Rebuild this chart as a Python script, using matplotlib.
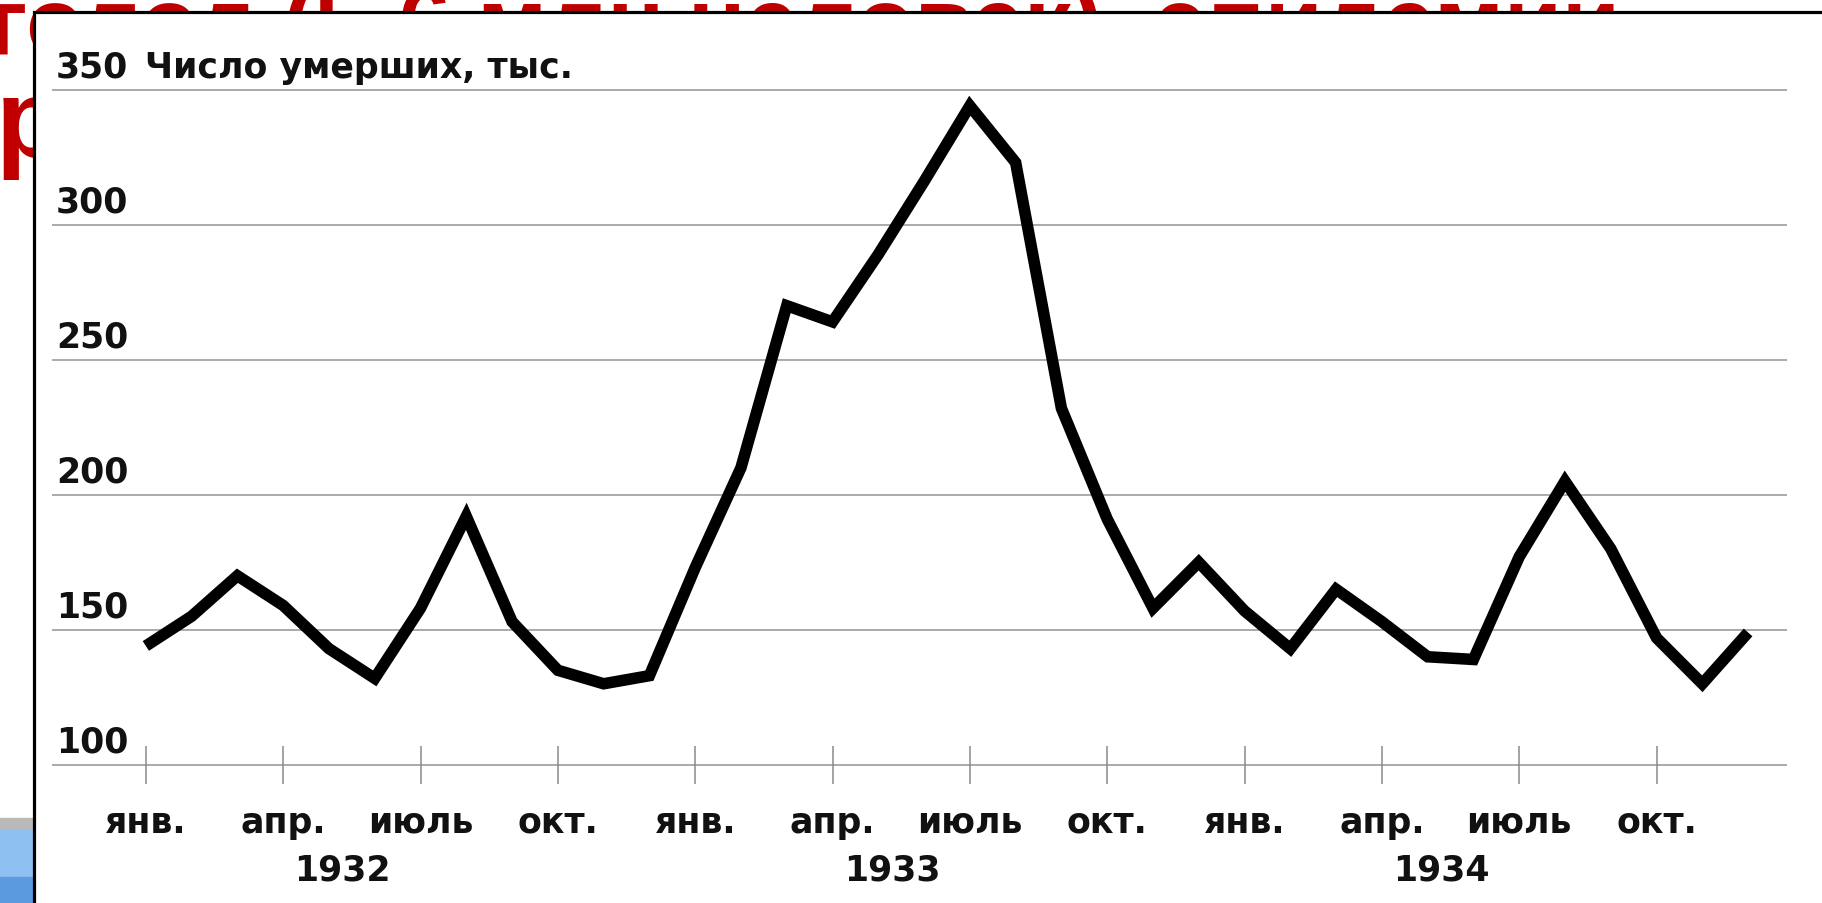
import matplotlib

matplotlib.use("Agg")

import matplotlib.pyplot as plt
import matplotlib.transforms as mtransforms
from matplotlib.patches import Rectangle

# monthly deaths, thousands (Jan 1932 .. Dec 1934)
deaths_1932 = [144, 155, 170, 159, 143, 132, 158, 192, 153, 135, 130, 133]
deaths_1933 = [173, 210, 270, 264, 289, 316, 344, 323, 232, 191, 158, 175]
deaths_1934 = [157, 143, 165, 153, 140, 139, 177, 205, 180, 147, 130, 149]
years = ["1932", "1933", "1934"]
month_labels = ["янв.", "апр.", "июль", "окт."]
y_levels = [100, 150, 200, 250, 300, 350]
y_title = "Число умерших, тыс."
slide_title = "голод (5-6 млн человек), эпидемии"

W, H, DPI = 1822, 904, 100
FONT = "DejaVu Sans"
FS = 25

deaths = deaths_1932 + deaths_1933 + deaths_1934
months = list(range(len(deaths)))

fig = plt.figure(figsize=(W / DPI, H / DPI), dpi=DPI)
fig.patch.set_facecolor("white")

# slide bits peeking out behind the chart box
fig.text(-12 / W, 1 - 54 / H, slide_title, color="#c00000", fontsize=68,
         fontweight="bold", family="Liberation Sans", va="baseline", zorder=0.1)
fig.text(-4 / W, 1 - 157 / H, "р", color="#c00000", fontsize=80,
         fontweight="bold", family="Liberation Sans", va="baseline", zorder=0.1)
fig.patches.append(Rectangle((0, 1 - 831 / H), 40 / W, 12 / H,
                             transform=fig.transFigure, color="#b9b9b9", zorder=0.2))
fig.patches.append(Rectangle((0, 0), 40 / W, 1 - 831 / H,
                             transform=fig.transFigure, color="#8ec0f2", zorder=0.2))
fig.patches.append(Rectangle((0, 0), 40 / W, 26 / H,
                             transform=fig.transFigure, color="#5a9be0", zorder=0.2))

# white chart box with black frame
fig.patches.append(Rectangle((34 / W, -0.1), 1.2, 1.1 - 13 / H,
                             transform=fig.transFigure, facecolor="white",
                             edgecolor="black", linewidth=2.3, zorder=0.5))

ax_left, ax_right = 52, 1787
ax_bottom, ax_top = 765.8, 90.6
ax = fig.add_axes([ax_left / W, 1 - ax_bottom / H,
                   (ax_right - ax_left) / W, (ax_bottom - ax_top) / H])
ax.set_zorder(1)
ax.patch.set_alpha(0)
for s in ax.spines.values():
    s.set_visible(False)

ax.set_xlim(-2.05, 35.85)
ax.set_ylim(y_levels[0], y_levels[-1])

ax.hlines(y_levels, -2.05, 35.85, color="#aaaaaa", linewidth=1.4,
          clip_on=False, zorder=1)

ax.plot(months, deaths, color="black", linewidth=8.3,
        solid_joinstyle="miter", solid_capstyle="butt", zorder=3, clip_on=False)

tick_pos = list(range(0, len(deaths), 3))
ax.set_xticks(tick_pos)
ax.set_xticklabels([])
ax.tick_params(axis="x", direction="inout", length=27, width=1.1,
               color="#8a8a8a")
ax.set_yticks([])

# y labels sitting above the gridlines
lab_trans = mtransforms.offset_copy(ax.get_yaxis_transform(), fig=fig,
                                    x=0, y=13, units="dots")
for v in y_levels:
    ax.text(4 / (ax_right - ax_left), v, str(v), transform=lab_trans,
            fontsize=FS, fontweight="bold", family=FONT, va="baseline",
            ha="left", color="#111111")
ax.text(93 / (ax_right - ax_left), y_levels[-1], y_title, transform=lab_trans,
        fontsize=FS, fontweight="bold", family=FONT, va="baseline",
        ha="left", color="#111111")

# month and year labels under the axis
xt = ax.get_xaxis_transform()
month_trans = mtransforms.offset_copy(xt, fig=fig, x=0, y=-67, units="dots")
year_trans = mtransforms.offset_copy(xt, fig=fig, x=0, y=-115, units="dots")
for i, m in enumerate(tick_pos):
    ax.text(m, 0, month_labels[i % 4], transform=month_trans, fontsize=FS,
            fontweight="bold", family=FONT, ha="center", va="baseline",
            color="#111111")
for k, yr in enumerate(years):
    ax.text(12 * k + 4.3, 0, yr, transform=year_trans, fontsize=FS,
            fontweight="bold", family=FONT, ha="center", va="baseline",
            color="#111111")

fig.savefig("out.png", dpi=DPI)
